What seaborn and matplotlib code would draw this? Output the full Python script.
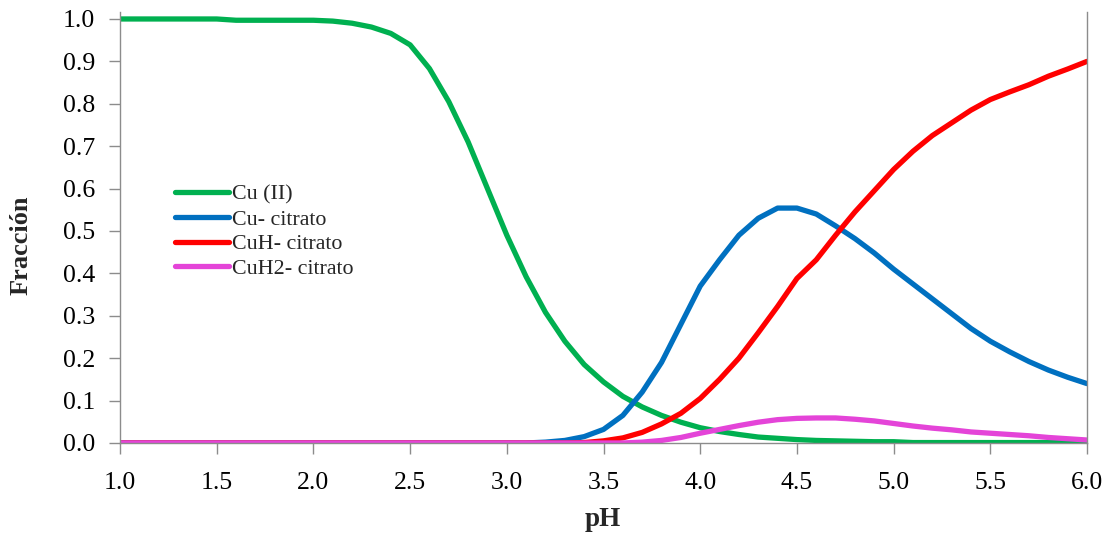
import numpy as np
import pandas as pd
import matplotlib
matplotlib.use("Agg")
import matplotlib.pyplot as plt
import seaborn as sns

# pH grid (0.1 steps) and species fractions
ph = [1.0, 1.1, 1.2, 1.3, 1.4, 1.5, 1.6, 1.7, 1.8, 1.9,
      2.0, 2.1, 2.2, 2.3, 2.4, 2.5, 2.6, 2.7, 2.8, 2.9,
      3.0, 3.1, 3.2, 3.3, 3.4, 3.5, 3.6, 3.7, 3.8, 3.9,
      4.0, 4.1, 4.2, 4.3, 4.4, 4.5, 4.6, 4.7, 4.8, 4.9,
      5.0, 5.1, 5.2, 5.3, 5.4, 5.5, 5.6, 5.7, 5.8, 5.9, 6.0]

cu_ii = [1.000, 1.000, 1.000, 1.000, 1.000, 1.000, 0.997, 0.997, 0.997, 0.997,
         0.997, 0.995, 0.990, 0.981, 0.966, 0.939, 0.883, 0.805, 0.710, 0.600,
         0.490, 0.392, 0.308, 0.240, 0.185, 0.144, 0.110, 0.085, 0.065, 0.049,
         0.036, 0.027, 0.020, 0.014, 0.011, 0.008, 0.006, 0.005, 0.004, 0.003,
         0.003, 0.001, 0.001, 0.001, 0.001, 0.001, 0.001, 0.001, 0.001, 0.001, 0.001]

cu_citrato = [0.0, 0.0, 0.0, 0.0, 0.0, 0.0, 0.0, 0.0, 0.0, 0.0,
              0.0, 0.0, 0.0, 0.0, 0.0, 0.0, 0.0, 0.0, 0.0, 0.0,
              0.0, 0.0, 0.002, 0.006, 0.015, 0.032, 0.065, 0.120, 0.190, 0.280,
              0.370, 0.432, 0.490, 0.530, 0.554, 0.554, 0.540, 0.512, 0.482, 0.448,
              0.410, 0.375, 0.340, 0.305, 0.270, 0.240, 0.215, 0.192, 0.172, 0.155, 0.140]

cuh_citrato = [0.0, 0.0, 0.0, 0.0, 0.0, 0.0, 0.0, 0.0, 0.0, 0.0,
               0.0, 0.0, 0.0, 0.0, 0.0, 0.0, 0.0, 0.0, 0.0, 0.0,
               0.0, 0.0, 0.0, 0.0, 0.001, 0.005, 0.012, 0.025, 0.045, 0.070,
               0.105, 0.150, 0.200, 0.260, 0.322, 0.388, 0.432, 0.490, 0.545, 0.595,
               0.645, 0.688, 0.725, 0.755, 0.785, 0.810, 0.828, 0.845, 0.865, 0.882, 0.900]

cuh2_citrato = [0.0, 0.0, 0.0, 0.0, 0.0, 0.0, 0.0, 0.0, 0.0, 0.0,
                0.0, 0.0, 0.0, 0.0, 0.0, 0.0, 0.0, 0.0, 0.0, 0.0,
                0.0, 0.0, 0.0, 0.0, 0.0, 0.0, 0.0, 0.002, 0.006, 0.013,
                0.023, 0.032, 0.041, 0.049, 0.055, 0.058, 0.059, 0.059, 0.056, 0.052,
                0.046, 0.040, 0.035, 0.031, 0.026, 0.023, 0.020, 0.017, 0.013, 0.010, 0.007]

species = ["Cu (II)", "Cu- citrato", "CuH- citrato", "CuH2- citrato"]
colors = ["#00B050", "#0070C0", "#FF0000", "#E444D8"]

x_ticks = [1.0, 1.5, 2.0, 2.5, 3.0, 3.5, 4.0, 4.5, 5.0, 5.5, 6.0]
y_ticks = [0.0, 0.1, 0.2, 0.3, 0.4, 0.5, 0.6, 0.7, 0.8, 0.9, 1.0]

df = pd.DataFrame({
    "pH": ph * 4,
    "Fracción": cu_ii + cu_citrato + cuh_citrato + cuh2_citrato,
    "Especie": sum([[s] * len(ph) for s in species], []),
})

sns.set_style("white")
plt.rcParams["font.family"] = ["Liberation Serif", "DejaVu Serif"]

fig = plt.figure(figsize=(11.09, 5.35), dpi=100)
ax = fig.add_axes([0.1082, 0.172, 0.872, 0.8056])

sns.lineplot(data=df, x="pH", y="Fracción", hue="Especie", hue_order=species,
             palette=colors, linewidth=3.8, ax=ax, legend=True, sort=False)

ax.set_xlim(1.0, 6.0)
ax.set_ylim(0.0, 1.0165)
ax.set_xticks(x_ticks)
ax.set_xticklabels([f"{v:.1f}" for v in x_ticks])
ax.set_yticks(y_ticks)
ax.set_yticklabels([f"{v:.1f}" for v in y_ticks])

spine_col = "#8C8C8C"
ax.spines["top"].set_visible(False)
for side in ["left", "right", "bottom"]:
    ax.spines[side].set_visible(True)
    ax.spines[side].set_color(spine_col)
    ax.spines[side].set_linewidth(1.0)

ax.tick_params(axis="both", which="major", direction="out", length=8, width=1.0,
               color=spine_col, labelsize=18.5, labelcolor="black")
ax.tick_params(axis="x", pad=13, bottom=True)
ax.tick_params(axis="y", pad=10, left=True)

ax.set_xlabel("pH", fontsize=19.5, fontweight="bold", va="center")
ax.set_ylabel("Fracción", fontsize=19, fontweight="bold", va="center")
# label centres placed in figure pixels, converted to axes fractions
ax.xaxis.set_label_coords((603 - 120) / 967, (443 - 520) / 431)
ax.yaxis.set_label_coords((21 - 120) / 967, (443 - 245) / 431)

handles, labels = ax.get_legend_handles_labels()
ax.legend(handles, labels, loc="center left", bbox_to_anchor=(0.057, 0.49),
          frameon=False, fontsize=15.8, handlelength=2.45, handletextpad=0.15,
          labelspacing=0.2, borderpad=0, borderaxespad=0)

fig.savefig("out.png", dpi=100, facecolor="white")
